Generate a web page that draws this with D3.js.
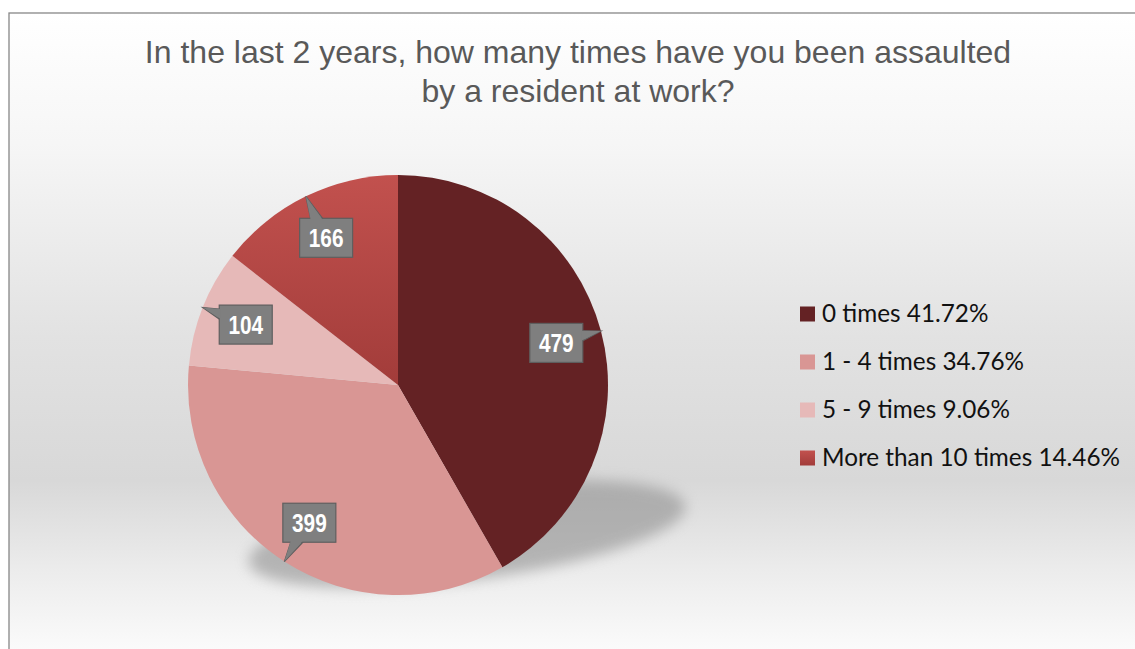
<!DOCTYPE html>
<html>
<head lang="en">
    <meta charset="UTF-8">
    <title>Assaulted by a resident</title>
    <style>
        body { margin: 0; background: #fff; }
    </style>
</head>
<body>
<div id="chart"></div>
<script src="https://cdnjs.cloudflare.com/ajax/libs/d3/7.8.5/d3.min.js"></script>
<script>
// chart data
var categories = ["0 times", "1 - 4 times", "5 - 9 times", "More than 10 times"];
var counts = [479, 399, 104, 166];
var percents = ["41.72%", "34.76%", "9.06%", "14.46%"];
var titleLines = ["In the last 2 years, how many times have you been assaulted", "by a resident at work?"];

var width = 1135, height = 649;
var cx = 398, cy = 385, radius = 210;

var svg = d3.select("#chart").append("svg")
        .attr("width", width)
        .attr("height", height);

var defs = svg.append("defs");

// background gradient of the chart area
var bg = defs.append("linearGradient").attr("id", "bg")
        .attr("x1", 0).attr("y1", 0).attr("x2", 0).attr("y2", 1);
[[0, "#ffffff"], [0.2, "#f6f6f6"], [0.5, "#e2e2e2"], [0.72, "#d8d8d8"], [0.86, "#ececec"], [1, "#fdfdfd"]]
    .forEach(function (s) { bg.append("stop").attr("offset", s[0]).attr("stop-color", s[1]); });

// the red slice is shaded top to bottom
var red = defs.append("linearGradient").attr("id", "redgrad")
        .attr("x1", 0).attr("y1", 0).attr("x2", 0).attr("y2", 1);
red.append("stop").attr("offset", 0).attr("stop-color", "#c2514e");
red.append("stop").attr("offset", 1).attr("stop-color", "#a23c3a");

var blur = defs.append("filter").attr("id", "blur")
        .attr("x", "-30%").attr("y", "-60%").attr("width", "160%").attr("height", "220%");
blur.append("feGaussianBlur").attr("stdDeviation", 7);

var colors = d3.scaleOrdinal()
        .domain(categories)
        .range(["#642224", "#d99694", "#e6b9b8", "url(#redgrad)"]);

// chart area with its border
svg.append("rect")
        .attr("x", 9).attr("y", 13)
        .attr("width", width).attr("height", height)
        .attr("fill", "url(#bg)")
        .attr("stroke", "#878787")
        .attr("stroke-width", 1.3);

// title
svg.append("g")
        .selectAll("text")
        .data(titleLines)
        .enter().append("text")
        .attr("x", 578)
        .attr("y", function (d, i) { return 63 + i * 39; })
        .attr("text-anchor", "middle")
        .attr("font-family", "'Liberation Sans', Arial, sans-serif")
        .attr("font-size", "32px")
        .attr("fill", "#595959")
        .text(function (d) { return d; });

// shadow under the pie
svg.append("ellipse")
        .attr("transform", "translate(467,534) rotate(-7.4)")
        .attr("rx", 220).attr("ry", 46)
        .attr("fill", "#888888")
        .attr("opacity", 0.55)
        .attr("filter", "url(#blur)");

var pie = d3.pie().sort(null).value(function (d) { return d; });
var arcs = pie(counts);

var arc = d3.arc().innerRadius(0).outerRadius(radius);
var edgeArc = d3.arc().innerRadius(radius).outerRadius(radius);
var boxArc = d3.arc().innerRadius(radius * 0.78).outerRadius(radius * 0.78);

var g = svg.append("g")
        .attr("transform", "translate(" + cx + "," + cy + ")");

g.selectAll(".slice")
        .data(arcs)
        .enter().append("path")
        .attr("class", "slice")
        .attr("d", arc)
        .attr("fill", function (d, i) { return colors(categories[i]); });

// callout labels
var bw = 53, bh = 39;
function tail(d, inset) {
    var t = edgeArc.centroid(d);
    var c = boxArc.centroid(d);
    var dx = t[0] - c[0], dy = t[1] - c[1];
    var sx = (bw / 2) / Math.abs(dx || 1e-6), sy = (bh / 2) / Math.abs(dy || 1e-6);
    var s = Math.min(sx, sy);
    var ex = c[0] + dx * s, ey = c[1] + dy * s;
    var p1, p2;
    if (sx < sy) {
        var side = dx > 0 ? -inset : inset;
        p1 = [ex + side, ey - 5]; p2 = [ex + side, ey + 5];
    } else {
        var side2 = dy > 0 ? -inset : inset;
        p1 = [ex - 6, ey + side2]; p2 = [ex + 6, ey + side2];
    }
    return "M" + p1 + "L" + t + "L" + p2 + "Z";
}

var labels = g.selectAll(".callout")
        .data(arcs)
        .enter().append("g")
        .attr("class", "callout");

labels.append("path")
        .attr("d", function (d) { return tail(d, 0); })
        .attr("fill", "#7f7f7f")
        .attr("stroke", "#5f5f5f")
        .attr("stroke-width", 1.2);

labels.append("rect")
        .attr("x", function (d) { return boxArc.centroid(d)[0] - bw / 2; })
        .attr("y", function (d) { return boxArc.centroid(d)[1] - bh / 2; })
        .attr("width", bw).attr("height", bh)
        .attr("fill", "#7f7f7f")
        .attr("stroke", "#5f5f5f")
        .attr("stroke-width", 1.2);

labels.append("path")
        .attr("d", function (d) { return tail(d, 1.5); })
        .attr("fill", "#7f7f7f");

// narrow bold numbers
labels.append("text")
        .attr("transform", function (d) {
            var c = boxArc.centroid(d);
            return "translate(" + c[0] + "," + (c[1] + 9.5) + ") scale(0.8,1)";
        })
        .attr("text-anchor", "middle")
        .attr("font-family", "'Liberation Sans', Arial, sans-serif")
        .attr("font-weight", "bold")
        .attr("font-size", "26px")
        .attr("fill", "#ffffff")
        .text(function (d) { return d.data; });

// legend
var legend = svg.append("g")
        .selectAll(".legend")
        .data(categories)
        .enter().append("g")
        .attr("class", "legend")
        .attr("transform", function (d, i) { return "translate(800," + (314 + i * 48) + ")"; });

legend.append("rect")
        .attr("x", 0).attr("y", -7.5)
        .attr("width", 15).attr("height", 15)
        .attr("fill", function (d) { return colors(d); });

legend.append("text")
        .attr("x", 22).attr("y", 8)
        .attr("font-family", "Lato, 'Open Sans', sans-serif")
        .attr("font-size", "24.3px")
        .attr("fill", "#111")
        .text(function (d, i) { return d + " " + percents[i]; });
</script>
</body>
</html>
